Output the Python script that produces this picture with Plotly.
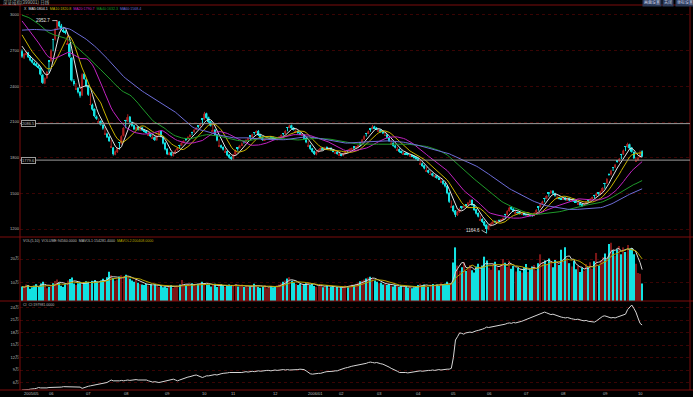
import numpy as np
import pandas as pd
import plotly.graph_objects as go

W, H = 693, 397

# ---------------- data ----------------
title_text = "深证成指(399001) 日线"

# closes before the first visible bar (feed the moving averages only)
prior_close = [2540, 2555, 2570, 2560, 2585, 2600, 2590, 2610, 2625, 2640,
               2560, 2585, 2590, 2600, 2620, 2610, 2630, 2650, 2680, 2700,
               2830, 2880, 2920, 2960, 2990, 3010, 3040, 3060, 3075, 3090,
               3100, 3085, 3070, 3080, 3095, 3110, 3090, 3075, 3060, 3080,
               3095, 3110, 3120, 3100, 3085, 3070, 3060, 3040, 3050, 3030,
               3010, 2990, 2960, 2930, 2900, 2860, 2820, 2780, 2740, 2700]

opens = [2695, 2640, 2668, 2684, 2650, 2622, 2598, 2590, 2565, 2555,
         2495, 2425, 2470, 2616, 2615, 2796, 2795, 2885, 2945, 2910,
         2875, 2858, 2754, 2755, 2640, 2445, 2374, 2385, 2352, 2325,
         2505, 2458, 2405, 2244, 2245, 2210, 2145, 2096, 2108, 2075,
         1994, 2002, 1975, 1884, 1885, 1825, 1848, 1930, 1920, 1985,
         2116, 2105, 2145, 2098, 2072, 2038, 2058, 2030, 2055, 2035,
         2025, 1990, 1998, 1962, 1972, 1948, 1990, 2025, 1978, 1925,
         1875, 1828, 1845, 1815, 1840, 1865, 1906, 1905, 1928, 1960,
         1958, 1978, 2016, 2015, 2040, 2070, 2070, 2126, 2125, 2172,
         2138, 2105, 2024, 2035, 1995, 1894, 1905, 1890, 1844, 1855,
         1825, 1805, 1792, 1828, 1886, 1885, 1905, 1940, 1940, 1952,
         1983, 1982, 2013, 2012, 2025, 1995, 1972, 1945, 1962, 1968,
         1975, 1972, 1965, 1952, 1962, 1978, 2006, 2005, 2056, 2055,
         2072, 2050, 2014, 2025, 2010, 1984, 1992, 1965, 1894, 1905,
         1878, 1855, 1828, 1850, 1868, 1884, 1872, 1888, 1875, 1882,
         1868, 1836, 1842, 1820, 1828, 1818, 1838, 1864, 1862, 1872,
         1890, 1888, 1895, 1930, 1928, 1955, 2006, 2005, 2046, 2045,
         2062, 2050, 2024, 2035, 2022, 1984, 1995, 1970, 1914, 1925,
         1902, 1862, 1872, 1855, 1830, 1838, 1833, 1814, 1822, 1815,
         1802, 1795, 1744, 1752, 1735, 1684, 1695, 1656, 1668, 1638,
         1650, 1632, 1594, 1605, 1585, 1562, 1505, 1384, 1395, 1355,
         1318, 1342, 1386, 1385, 1406, 1402, 1422, 1445, 1405, 1365,
         1335, 1274, 1285, 1262, 1235, 1198, 1228, 1248, 1265, 1258,
         1272, 1268, 1280, 1326, 1322, 1352, 1385, 1370, 1334, 1342,
         1338, 1319, 1328, 1322, 1309, 1318, 1315, 1312, 1338, 1390,
         1388, 1410, 1460, 1458, 1506, 1502, 1522, 1500, 1454, 1462,
         1458, 1450, 1465, 1442, 1460, 1438, 1452, 1435, 1409, 1415,
         1408, 1398, 1415, 1446, 1442, 1455, 1486, 1482, 1505, 1492,
         1518, 1586, 1585, 1662, 1660, 1720, 1720, 1775, 1770, 1830,
         1830, 1896, 1892, 1912, 1885, 1848, 1770, 1778, 1805, 1855]

highs = [2710, 2680, 2695, 2690, 2658, 2630, 2608, 2596, 2580, 2560,
         2505, 2475, 2530, 2620, 2712, 2800, 2890, 2953, 2950, 2925,
         2890, 2872, 2850, 2765, 2645, 2460, 2428, 2395, 2360, 2510,
         2515, 2465, 2410, 2340, 2255, 2215, 2155, 2130, 2115, 2082,
         2058, 2010, 1982, 1950, 1890, 1860, 1888, 1932, 1988, 2058,
         2118, 2165, 2150, 2105, 2078, 2062, 2065, 2058, 2060, 2040,
         2030, 2018, 2002, 1990, 1978, 1992, 2028, 2030, 1982, 1930,
         1880, 1850, 1850, 1845, 1868, 1888, 1908, 1930, 1948, 1962,
         1980, 1998, 2018, 2040, 2058, 2072, 2090, 2128, 2185, 2178,
         2145, 2110, 2080, 2040, 2000, 1955, 1910, 1895, 1878, 1860,
         1830, 1812, 1832, 1868, 1888, 1908, 1928, 1942, 1955, 1968,
         1985, 2002, 2015, 2030, 2032, 2000, 1978, 1965, 1972, 1980,
         1982, 1978, 1970, 1966, 1982, 1995, 2008, 2032, 2058, 2078,
         2078, 2058, 2045, 2030, 2015, 2008, 1998, 1970, 1940, 1910,
         1882, 1860, 1855, 1872, 1888, 1890, 1892, 1895, 1888, 1888,
         1872, 1860, 1848, 1840, 1832, 1842, 1855, 1866, 1878, 1885,
         1892, 1898, 1908, 1932, 1958, 1988, 2008, 2028, 2048, 2075,
         2068, 2058, 2050, 2040, 2028, 2015, 2000, 1975, 1950, 1930,
         1908, 1892, 1878, 1860, 1850, 1845, 1840, 1835, 1828, 1820,
         1808, 1800, 1790, 1758, 1740, 1720, 1700, 1685, 1672, 1655,
         1655, 1640, 1630, 1610, 1590, 1568, 1510, 1440, 1400, 1360,
         1352, 1378, 1388, 1400, 1410, 1428, 1448, 1450, 1410, 1370,
         1340, 1315, 1290, 1268, 1240, 1232, 1252, 1268, 1272, 1275,
         1280, 1285, 1298, 1328, 1358, 1390, 1392, 1375, 1360, 1348,
         1345, 1340, 1335, 1330, 1326, 1324, 1320, 1342, 1368, 1392,
         1415, 1438, 1462, 1485, 1508, 1528, 1526, 1505, 1488, 1468,
         1465, 1470, 1468, 1462, 1465, 1455, 1458, 1440, 1432, 1420,
         1412, 1418, 1435, 1448, 1460, 1472, 1488, 1508, 1510, 1522,
         1552, 1588, 1628, 1668, 1698, 1722, 1748, 1780, 1798, 1832,
         1868, 1898, 1926, 1918, 1890, 1852, 1805, 1810, 1860, 1862]

lows = [2640, 2630, 2660, 2638, 2610, 2592, 2575, 2562, 2548, 2492,
        2420, 2418, 2462, 2515, 2605, 2695, 2785, 2875, 2895, 2870,
        2850, 2838, 2752, 2640, 2440, 2405, 2370, 2340, 2305, 2318,
        2455, 2392, 2320, 2240, 2195, 2140, 2118, 2095, 2070, 2035,
        1992, 1965, 1932, 1882, 1818, 1820, 1840, 1868, 1912, 1978,
        2048, 2098, 2092, 2060, 2032, 2030, 2028, 2025, 2025, 2012,
        2002, 1988, 1972, 1960, 1940, 1942, 1982, 1970, 1912, 1862,
        1822, 1820, 1812, 1810, 1832, 1858, 1878, 1898, 1920, 1938,
        1950, 1970, 1988, 2008, 2032, 2048, 2062, 2078, 2118, 2128,
        2092, 2062, 2022, 1982, 1938, 1892, 1878, 1860, 1842, 1812,
        1792, 1780, 1785, 1820, 1858, 1878, 1898, 1918, 1932, 1945,
        1955, 1975, 1992, 2005, 1982, 1960, 1942, 1940, 1955, 1962,
        1962, 1955, 1948, 1945, 1955, 1970, 1985, 1998, 2022, 2048,
        2040, 2028, 2012, 2000, 1990, 1982, 1952, 1922, 1892, 1865,
        1842, 1822, 1820, 1842, 1860, 1865, 1865, 1872, 1870, 1858,
        1845, 1835, 1825, 1818, 1812, 1812, 1830, 1842, 1855, 1865,
        1872, 1880, 1888, 1895, 1920, 1948, 1978, 1998, 2018, 2038,
        2040, 2032, 2022, 2010, 1998, 1982, 1958, 1932, 1912, 1892,
        1878, 1860, 1842, 1835, 1828, 1822, 1818, 1812, 1805, 1792,
        1782, 1772, 1742, 1722, 1702, 1682, 1668, 1655, 1642, 1632,
        1622, 1612, 1592, 1572, 1550, 1492, 1420, 1380, 1340, 1300,
        1310, 1335, 1365, 1378, 1388, 1395, 1415, 1395, 1352, 1322,
        1298, 1272, 1252, 1222, 1165, 1190, 1220, 1240, 1252, 1250,
        1262, 1262, 1275, 1288, 1315, 1345, 1360, 1345, 1332, 1328,
        1322, 1318, 1312, 1310, 1308, 1305, 1302, 1308, 1332, 1355,
        1380, 1402, 1425, 1450, 1472, 1495, 1492, 1472, 1452, 1448,
        1445, 1445, 1440, 1438, 1435, 1432, 1428, 1420, 1408, 1395,
        1385, 1392, 1408, 1422, 1435, 1448, 1460, 1475, 1488, 1485,
        1510, 1540, 1578, 1648, 1650, 1688, 1712, 1758, 1762, 1788,
        1822, 1855, 1885, 1872, 1842, 1790, 1768, 1772, 1798, 1805]

closes = [2650, 2672, 2680, 2645, 2618, 2600, 2585, 2570, 2560, 2500,
          2430, 2468, 2520, 2610, 2700, 2790, 2880, 2950, 2905, 2880,
          2862, 2850, 2760, 2650, 2450, 2420, 2380, 2350, 2320, 2500,
          2462, 2400, 2330, 2250, 2205, 2150, 2128, 2102, 2080, 2045,
          2000, 1972, 1940, 1890, 1830, 1852, 1880, 1925, 1980, 2050,
          2110, 2140, 2100, 2068, 2040, 2055, 2035, 2050, 2030, 2022,
          2010, 1995, 1980, 1968, 1950, 1985, 2020, 1975, 1920, 1870,
          1830, 1842, 1820, 1838, 1860, 1880, 1900, 1922, 1940, 1955,
          1972, 1990, 2010, 2032, 2050, 2065, 2080, 2120, 2170, 2135,
          2100, 2070, 2030, 1990, 1945, 1900, 1885, 1868, 1850, 1820,
          1800, 1790, 1825, 1860, 1880, 1900, 1920, 1935, 1948, 1960,
          1978, 1995, 2008, 2020, 1990, 1968, 1950, 1958, 1965, 1972,
          1970, 1962, 1955, 1960, 1975, 1988, 2000, 2025, 2050, 2070,
          2048, 2035, 2020, 2008, 1998, 1990, 1960, 1930, 1900, 1875,
          1850, 1830, 1848, 1865, 1880, 1870, 1885, 1878, 1880, 1865,
          1852, 1840, 1832, 1825, 1820, 1835, 1848, 1860, 1870, 1878,
          1885, 1892, 1900, 1925, 1950, 1980, 2000, 2020, 2040, 2060,
          2048, 2040, 2030, 2018, 2005, 1990, 1965, 1940, 1920, 1900,
          1885, 1868, 1850, 1842, 1835, 1830, 1825, 1820, 1812, 1800,
          1790, 1780, 1750, 1730, 1710, 1690, 1675, 1662, 1650, 1648,
          1630, 1620, 1600, 1580, 1560, 1500, 1430, 1390, 1350, 1320,
          1345, 1370, 1380, 1392, 1400, 1420, 1440, 1400, 1360, 1330,
          1305, 1280, 1260, 1230, 1200, 1225, 1245, 1260, 1262, 1268,
          1270, 1278, 1290, 1320, 1350, 1380, 1365, 1352, 1340, 1335,
          1330, 1325, 1320, 1318, 1315, 1312, 1310, 1335, 1360, 1385,
          1408, 1430, 1455, 1478, 1500, 1520, 1498, 1480, 1460, 1455,
          1452, 1462, 1445, 1458, 1440, 1450, 1432, 1425, 1412, 1405,
          1400, 1412, 1428, 1440, 1452, 1465, 1480, 1500, 1495, 1515,
          1545, 1580, 1620, 1655, 1690, 1715, 1740, 1765, 1790, 1825,
          1860, 1890, 1915, 1880, 1850, 1795, 1775, 1800, 1838, 1812]

# volume, in 万
volumes = [8.2, 7.5, 9.0, 8.8, 7.2, 7.8, 8.5, 9.2, 8.0, 9.5,
           10.2, 8.6, 7.4, 8.0, 8.8, 9.6, 10.5, 11.2, 9.8, 8.5,
           8.0, 9.2, 10.8, 11.4, 12.0, 9.5, 8.8, 9.6, 10.2, 9.0,
           9.8, 10.4, 10.0, 9.2, 10.6, 11.0, 10.2, 9.6, 10.8, 11.5,
           10.4, 12.2, 14.5, 13.0, 11.8, 10.6, 11.2, 12.5, 13.0, 12.6,
           13.2, 12.0, 11.5, 10.8, 10.2, 11.6, 9.8, 9.2, 9.0, 8.8,
           9.4, 8.6, 9.0, 8.4, 9.2, 8.8, 8.0, 8.6, 7.8, 8.2,
           7.6, 8.4, 8.8, 7.5, 8.0, 8.6, 9.0, 11.0, 8.4, 8.8,
           9.2, 8.6, 9.6, 9.0, 8.4, 9.4, 9.7, 10.2, 9.6, 8.8,
           9.0, 8.2, 8.8, 9.4, 8.0, 8.6, 9.2, 8.4, 8.0, 8.6,
           9.0, 8.4, 8.8, 9.2, 8.2, 8.6, 9.0, 8.0, 8.4, 7.8,
           8.2, 8.8, 9.4, 8.6, 8.0, 7.6, 8.2, 8.8, 7.4, 8.0,
           8.4, 7.8, 8.2, 8.6, 9.0, 9.6, 10.2, 10.8, 11.6, 12.2,
           10.6, 9.8, 9.2, 8.8, 9.4, 8.6, 9.0, 9.6, 10.0, 8.8,
           9.2, 8.4, 8.0, 8.6, 9.0, 7.8, 8.2, 8.8, 7.6, 8.0,
           8.4, 7.6, 8.0, 7.4, 7.8, 8.2, 8.6, 7.8, 8.4, 9.0,
           8.8, 9.4, 9.8, 10.4, 10.8, 11.2, 11.6, 12.0, 12.4, 11.8,
           10.8, 10.2, 9.6, 9.8, 9.0, 9.4, 8.8, 9.2, 8.6, 8.2,
           8.8, 8.4, 8.0, 8.6, 7.8, 8.2, 7.6, 8.0, 7.4, 7.8,
           8.2, 8.8, 9.4, 8.6, 9.0, 8.4, 8.0, 8.8, 9.2, 8.6,
           9.0, 8.4, 9.6, 8.8, 9.4, 10.2, 8.8, 9.6, 18.5, 25.0,
           17.2, 15.0, 16.4, 18.6, 14.8, 16.0, 17.4, 15.2, 14.2, 16.8,
           18.0, 15.6, 17.2, 21.0, 19.4, 16.2, 15.4, 17.8, 18.8, 16.4,
           15.2, 17.6, 20.0, 18.4, 16.6, 19.2, 15.8, 17.0, 14.6, 16.2,
           15.0, 14.2, 16.6, 17.8, 14.4, 15.6, 16.8, 17.4, 15.2, 18.2,
           22.0, 18.6, 19.4, 17.8, 20.2, 18.8, 16.4, 19.6, 18.2, 17.4,
           24.0, 19.0, 25.0, 20.4, 18.2, 16.8, 19.2, 15.6, 17.0, 14.4,
           16.2, 15.0, 17.8, 16.4, 18.6, 15.8, 19.0, 22.6, 17.2, 19.6,
           20.8, 22.4, 19.8, 26.5, 27.0, 23.8, 21.4, 24.2, 25.6, 22.0,
           25.0, 23.0, 26.0, 24.5, 24.7, 22.0, 18.0, 14.0, 13.7, 9.46]

# CI indicator, in 万
ci = [4.2, 4.2, 4.3, 4.3, 4.4, 4.4, 4.5, 4.6, 4.8, 4.7,
      4.7, 4.6, 4.7, 4.8, 4.8, 4.8, 4.9, 4.9, 4.8, 4.9,
      5.0, 5.0, 5.0, 4.9, 5.0, 4.9, 4.9, 5.0, 4.9, 4.6,
      4.8, 5.0, 5.1, 5.2, 5.3, 5.4, 5.4, 5.5, 5.6, 5.7,
      5.9, 6.0, 6.3, 6.6, 6.4, 6.4, 6.3, 6.4, 6.5, 6.4,
      6.5, 6.6, 6.5, 6.6, 6.6, 6.7, 6.6, 6.6, 6.5, 6.6,
      6.6, 6.4, 6.2, 6.1, 6.2, 6.1, 6.0, 6.1, 6.2, 6.3,
      6.4, 6.5, 6.7, 6.8, 6.6, 6.4, 6.6, 6.8, 7.0, 7.2,
      7.3, 7.4, 7.6, 7.7, 7.8, 7.6, 7.4, 7.2, 7.4, 7.6,
      7.6, 7.7, 7.8, 7.9, 7.8, 8.0, 8.1, 8.2, 8.2, 8.3,
      8.4, 8.4, 8.4, 8.3, 8.4, 8.3, 8.4, 8.5, 8.6, 8.5,
      8.6, 8.7, 8.6, 8.7, 8.8, 8.7, 8.8, 8.8, 8.9, 8.9,
      8.8, 8.9, 9.0, 8.9, 9.0, 9.0, 9.1, 9.0, 9.1, 9.0,
      9.0, 9.1, 9.0, 9.1, 9.2, 9.1, 9.1, 8.8, 8.4, 8.1,
      8.0, 8.1, 8.2, 8.2, 8.2, 8.4, 8.5, 8.6, 8.6, 8.7,
      8.7, 8.8, 8.8, 9.0, 9.2, 9.4, 9.5, 9.6, 9.8, 9.9,
      10.0, 10.1, 10.1, 10.2, 10.4, 10.5, 10.6, 10.8, 10.9, 10.8,
      10.7, 10.8, 10.6, 10.5, 10.4, 10.2, 10.0, 9.7, 9.4, 9.2,
      9.0, 8.7, 8.4, 8.4, 8.5, 8.4, 8.3, 8.4, 8.4, 8.5,
      8.6, 8.7, 8.8, 8.7, 8.8, 8.8, 8.9, 8.9, 9.0, 8.9,
      9.0, 9.1, 9.0, 9.1, 9.2, 9.2, 9.2, 9.4, 12.0, 16.2,
      17.0, 17.9, 17.8, 17.6, 17.9, 18.0, 18.1, 18.0, 18.3, 18.4,
      18.5, 18.6, 18.8, 19.0, 19.3, 19.2, 19.3, 19.4, 19.5, 19.5,
      19.6, 19.8, 19.9, 20.0, 20.2, 20.3, 20.2, 20.4, 20.3, 20.4,
      20.5, 20.7, 20.9, 21.1, 21.3, 21.5, 21.7, 21.9, 22.2, 22.4,
      22.6, 22.8, 22.9, 22.7, 22.5, 22.3, 22.4, 22.2, 22.0, 21.9,
      21.7, 21.6, 21.5, 21.6, 21.4, 21.3, 21.2, 21.1, 21.2, 21.0,
      20.9, 20.8, 20.9, 20.7, 20.6, 20.5, 20.5, 20.8, 21.2, 21.6,
      21.9, 22.0, 21.8, 21.6, 21.5, 21.6, 21.5, 21.7, 21.9, 22.1,
      22.2, 22.4, 23.5, 24.0, 24.6, 23.8, 22.9, 21.5, 20.2, 19.8]

month_labels = ["2005/05", "06", "07", "08", "09", "10", "11", "12", "2006/01",
                "02", "03", "04", "05", "06", "07", "08", "09", "10"]
month_start = [0, 12, 30, 48, 68, 86, 100, 120, 137, 152, 170, 189, 206, 223,
               241, 259, 279, 296]

price_ticks = [1200, 1500, 1800, 2100, 2400, 2700, 3000]
vol_ticks = [10, 20]
ci_ticks = [6, 9, 12, 15, 18, 21, 24]
ref_levels = [2086.5, 1779.6]

ma_periods = [5, 10, 20, 40, 60]
ma_legend = ["MA5:1804.1", "MA10:1820.8", "MA20:1790.7", "MA40:1632.3", "MA60:1568.4"]
vol_legend = ["VOL(5,10)", "VOLUME:94560.0000", "MAVOL1:154281.4000", "MAVOL2:200408.0000"]
ci_legend = "CI  CI:197981.0000"
peak_label, peak_bar, peak_value = "2952.7", 17, 2953
low_label, low_bar, low_value = "1164.6", 224, 1165
buttons = ["画面设置", "关闭", "坐标设置"]

n = len(closes)
assert len(opens) == n and len(highs) == n and len(lows) == n
assert len(volumes) == n and len(ci) == n and len(prior_close) == 60

# ---------------- styling ----------------
BG = "#000000"
BORDER = "#7c0c0c"
GRID = "#3a0404"
TXT = "#bdbdbd"
FONT = "Liberation Sans, Noto Sans CJK SC, sans-serif"
UP_BODY, UP_WICK = "#8c1818", "#b02020"
DN = "#12e2e2"
VOL_UP = "#7a1616"
MA_COLORS = ["#e4e4e4", "#c9b400", "#c223c2", "#1f9a2a", "#6d6dd8"]
VMA_COLORS = ["#d8d8d8", "#b8a400"]


def fx(p):
    return p / W


def fy(p):
    return 1 - p / H


idx = np.arange(n)
o_arr, c_arr = np.array(opens, float), np.array(closes, float)
up = c_arr >= o_arr
full = pd.Series(prior_close + closes, dtype=float)
mas = [full.rolling(p).mean().iloc[len(prior_close):].to_numpy() for p in ma_periods]
vser = pd.Series(volumes, dtype=float)
vmas = [vser.rolling(p, min_periods=1).mean().to_numpy() for p in (5, 10)]
vol_colors = [VOL_UP if u else DN for u in up]

fig = go.Figure()

# wicks (one trace per colour, segments separated by None)
for mask, col in ((up, UP_WICK), (~up, DN)):
    wx, wy = [], []
    for i in idx[mask]:
        wx += [i, i, None]
        wy += [lows[i], highs[i], None]
    fig.add_trace(go.Scatter(x=wx, y=wy, mode="lines", line=dict(color=col, width=1),
                             hoverinfo="skip", xaxis="x", yaxis="y"))
# bodies
body_base = np.minimum(o_arr, c_arr)
body_h = np.maximum(np.abs(c_arr - o_arr), 4)
for mask, col in ((up, UP_BODY), (~up, DN)):
    fig.add_trace(go.Bar(x=idx[mask], y=body_h[mask], base=body_base[mask], width=0.8,
                         marker=dict(color=col, line=dict(width=0)),
                         hoverinfo="skip", xaxis="x", yaxis="y"))

for m, col in zip(mas, MA_COLORS):
    fig.add_trace(go.Scatter(x=idx, y=m, mode="lines", line=dict(color=col, width=1),
                             hoverinfo="skip", xaxis="x", yaxis="y"))
fig.add_trace(go.Bar(x=idx, y=volumes, marker=dict(color=vol_colors, line=dict(width=0)),
                     width=0.55, hoverinfo="skip", xaxis="x", yaxis="y2"))
for m, col in zip(vmas, VMA_COLORS):
    fig.add_trace(go.Scatter(x=idx, y=m, mode="lines", line=dict(color=col, width=1),
                             hoverinfo="skip", xaxis="x", yaxis="y2"))
fig.add_trace(go.Scatter(x=idx, y=ci, mode="lines", line=dict(color="#d6d6d6", width=1),
                         hoverinfo="skip", xaxis="x", yaxis="y3"))

# pixel geometry
X0, X1 = 20, 690
Y_TOP, Y_VOL, Y_CI, Y_BOT = 5, 237, 301, 390
bar_px = 2.074
first_px = 22
x_range = [(X0 - first_px) / bar_px, (X1 - first_px) / bar_px]

axis_common = dict(showline=False, zeroline=False, ticks="", fixedrange=True,
                   tickfont=dict(size=4, color=TXT, family=FONT),
                   gridcolor=GRID, griddash="dot", gridwidth=1, automargin=False)

fig.update_layout(
    width=W, height=H, margin=dict(l=0, r=0, t=0, b=0),
    paper_bgcolor=BG, plot_bgcolor=BG, showlegend=False, barmode="overlay",
    xaxis=dict(domain=[fx(X0), fx(X1)], range=x_range, showgrid=False, zeroline=False,
               showticklabels=False, anchor="y3", fixedrange=True,
               rangeslider=dict(visible=False)),
    yaxis=dict(domain=[fy(Y_VOL), fy(Y_TOP)], range=[1133, 3084],
               tickvals=price_ticks, ticktext=[str(v) for v in price_ticks],
               anchor="x", **axis_common),
    yaxis2=dict(domain=[fy(Y_CI), fy(Y_VOL)], range=[1.94, 29.46],
                tickvals=vol_ticks, ticktext=[f"{v}万" for v in vol_ticks],
                anchor="x", **axis_common),
    yaxis3=dict(domain=[fy(Y_BOT), fy(Y_CI)], range=[4.2, 25.56],
                tickvals=ci_ticks, ticktext=[f"{v}万" for v in ci_ticks],
                anchor="x", **axis_common),
)

shapes = []
for yy in (Y_TOP, Y_VOL, Y_CI, Y_BOT):
    shapes.append(dict(type="line", xref="paper", yref="paper", x0=0, x1=1,
                       y0=fy(yy), y1=fy(yy), line=dict(color=BORDER, width=1)))
for xx in (X0, X1):
    shapes.append(dict(type="line", xref="paper", yref="paper", x0=fx(xx), x1=fx(xx),
                       y0=fy(Y_BOT), y1=fy(Y_TOP), line=dict(color=BORDER, width=1)))
for lv in ref_levels:
    shapes.append(dict(type="line", xref="paper", yref="y", x0=fx(X0), x1=fx(X1),
                       y0=lv, y1=lv, line=dict(color="#9c9c9c", width=1)))
fig.update_layout(shapes=shapes)

ann = []


def txt(x, y, s, color=TXT, size=4, anchor="left", **kw):
    ann.append(dict(x=fx(x), y=fy(y), xref="paper", yref="paper", text=s,
                    showarrow=False, xanchor=anchor, yanchor="middle",
                    font=dict(size=size, color=color, family=FONT), **kw))


def span(s, col):
    return f"<span style='color:{col}'>{s}</span>"


# title bar
txt(1, 2.4, title_text, color="#a8a8a8", size=4.5)
for bx, b in zip((642, 662, 675), buttons):
    txt(bx, 2.4, b, color="#d0d8f0", size=4, bgcolor="#2c3a58")

# MA legend (one line, coloured parts)
ma_line = span("X", "#d0d0d0") + "  " + "  ".join(span(s, c) for s, c in zip(ma_legend, MA_COLORS))
txt(21.5, 8.8, ma_line, size=3.6)

# volume legend
vol_line = "  ".join(span(s, c) for s, c in zip(vol_legend, [TXT, TXT, TXT, VMA_COLORS[1]]))
txt(21, 240.5, vol_line, size=3.6)
# CI legend
txt(21, 304.6, ci_legend, size=3.6)

# month labels
for m, lab in zip(month_start, month_labels):
    ann.append(dict(x=m, y=fy(393.6), xref="x", yref="paper", text=lab, showarrow=False,
                    xanchor="left", yanchor="middle",
                    font=dict(size=4, color=TXT, family=FONT)))

# reference level boxes
for lv in ref_levels:
    ann.append(dict(x=fx(21), y=lv, xref="paper", yref="y", text=f"{lv:.1f}",
                    showarrow=False, xanchor="left", yanchor="middle",
                    bgcolor=BG, bordercolor="#9c9c9c", borderwidth=1, borderpad=0,
                    font=dict(size=4, color=TXT, family=FONT)))

# peak / trough markers
for lab, b, v, ay in ((peak_label, peak_bar, peak_value, 0), (low_label, low_bar, low_value, -3)):
    ann.append(dict(x=b, y=v, xref="x", yref="y", text=lab, showarrow=True,
                    arrowhead=0, arrowwidth=0.8, arrowcolor="#dcdcdc",
                    ax=-5, ay=ay, xanchor="right", yanchor="middle",
                    font=dict(size=4.5, color="#e0e0e0", family=FONT)))

fig.update_layout(annotations=ann)
fig.write_html("out.html")
